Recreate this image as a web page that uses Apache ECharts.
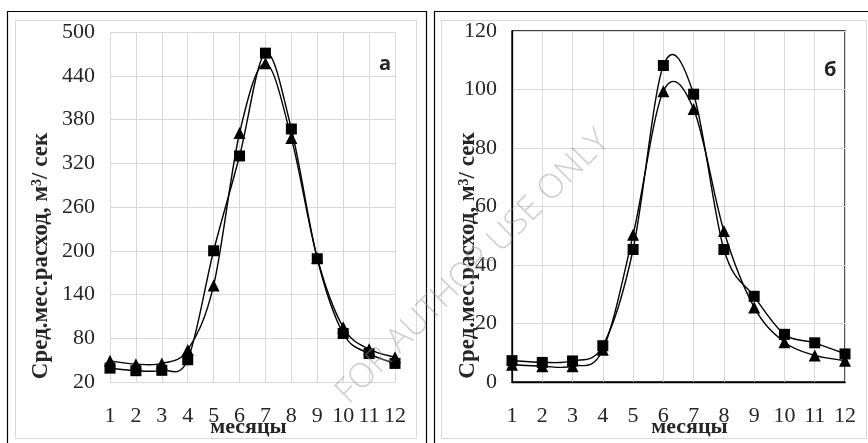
<!DOCTYPE html>
<html>
<head>
<meta charset="utf-8">
<script src="https://cdn.jsdelivr.net/npm/echarts@6/dist/echarts.min.js"></script>
<style>
  html, body { margin: 0; padding: 0; background: #fff; }
  #main { width: 868px; height: 443px; }
</style>
</head>
<body>
<div id="main"></div>
<script>
// месяцы
var months = ['1', '2', '3', '4', '5', '6', '7', '8', '9', '10', '11', '12'];

// график а
var aSquares = [39, 35.5, 36, 50.5, 200, 330, 471, 367, 189, 86.5, 59, 45.5];
var aTriangles = [49, 44.5, 45.5, 64, 152.5, 361.5, 457, 354.5, 190, 95, 65, 54];

// график б
var bSquares = [7.3, 6.7, 7.2, 12.4, 45.3, 108.2, 98.4, 45.3, 29.3, 16.3, 13.4, 9.6];
var bTriangles = [5.9, 5.4, 5.4, 11, 50.3, 99.4, 93.3, 51.6, 25.5, 13.6, 9.1, 7.3];

var serif = '"Liberation Serif", "DejaVu Serif", serif';
var textColor = '#262626';
var gridColor = '#d9d9d9';

var chart = echarts.init(document.getElementById('main'));

// подпись оси Y (с верхним индексом)
function yName (gap) {
    return {
        name: '{t|Сред.мес.расход, м}{s|3}{t|/ сек}',
        nameLocation: 'middle',
        nameGap: gap,
        nameMoveOverlap: false,
        nameTextStyle: {
            padding: [0, 98, 0, 0],
            rich: {
                t: { fontFamily: serif, fontSize: 23, fontWeight: 'bold', color: textColor },
                s: { fontFamily: serif, fontSize: 14, fontWeight: 'bold', color: textColor, verticalAlign: 'top' }
            }
        }
    }
}

function xAxis (gi, lineColor, pad) {
    return {
        type: 'category',
        gridIndex: gi,
        data: months,
        boundaryGap: false,
        name: 'месяцы',
        nameLocation: 'middle',
        nameGap: 34,
        nameMoveOverlap: false,
        nameTextStyle: { fontFamily: serif, fontSize: 22, fontWeight: 'bold', color: textColor, padding: pad },
        axisLine: { show: true, lineStyle: { color: lineColor, width: lineColor === '#000' ? 1.3 : 1 } },
        axisTick: { show: false },
        axisLabel: { margin: 23, fontFamily: serif, fontSize: 22, color: textColor, interval: 0 },
        splitLine: { show: true, lineStyle: { color: gridColor, width: 1 } }
    }
}

// сглаженная кривая как в Excel (Безье по соседним точкам)
function curveSeries (xi, values) {
    return {
        type: 'custom',
        xAxisIndex: xi,
        yAxisIndex: xi,
        silent: true,
        z: 2,
        data: values.map(function (v, i) { return [i, v] }),
        renderItem: function (params, api) {
            var i = params.dataIndexInside
            var n = params.dataInsideLength
            if (i >= n - 1) return
            function pt (j) {
                j = Math.max(0, Math.min(n - 1, j))
                return api.coord([api.value(0, j), api.value(1, j)])
            }
            var p0 = pt(i - 1), p1 = pt(i), p2 = pt(i + 1), p3 = pt(i + 2)
            var k = 1 / 6
            return {
                type: 'bezierCurve',
                shape: {
                    x1: p1[0], y1: p1[1],
                    x2: p2[0], y2: p2[1],
                    cpx1: p1[0] + (p2[0] - p0[0]) * k,
                    cpy1: p1[1] + (p2[1] - p0[1]) * k,
                    cpx2: p2[0] - (p3[0] - p1[0]) * k,
                    cpy2: p2[1] - (p3[1] - p1[1]) * k
                },
                style: { stroke: '#000', lineWidth: 1.4, fill: null }
            }
        }
    }
}

function markSeries (symbol, size, xi, values) {
    return {
        type: 'scatter',
        xAxisIndex: xi,
        yAxisIndex: xi,
        data: values,
        symbol: symbol,
        symbolSize: size,
        itemStyle: { color: '#000', opacity: 1 },
        z: 4
    }
}

var yA = Object.assign({
    type: 'value',
    gridIndex: 0,
    min: 20,
    max: 500,
    interval: 60,
    axisLine: { show: false },
    axisTick: { show: false },
    axisLabel: { margin: 15, fontFamily: serif, fontSize: 22, color: textColor },
    splitLine: { lineStyle: { color: gridColor, width: 1 } }
}, yName(57));

var yB = Object.assign({
    type: 'value',
    gridIndex: 1,
    min: 0,
    max: 120,
    interval: 20,
    axisLine: { show: true, lineStyle: { color: '#000', width: 1.3 } },
    axisTick: { show: false },
    axisLabel: { margin: 15, fontFamily: serif, fontSize: 22, color: textColor },
    splitLine: { lineStyle: { color: gridColor, width: 1 } }
}, yName(32));

var option = {
    animation: false,
    backgroundColor: '#fff',
    grid: [
        { left: 110, top: 32, width: 285, height: 351, show: false },
        { left: 512, top: 31, width: 333, height: 353, show: true, borderColor: '#000', borderWidth: 1.3, backgroundColor: 'transparent' }
    ],
    xAxis: [xAxis(0, gridColor, [0, 8, 0, 0]), xAxis(1, '#000', [0, 0, 0, 22])],
    yAxis: [yA, yB],
    series: [
        curveSeries(0, aTriangles),
        curveSeries(0, aSquares),
        curveSeries(1, bTriangles),
        curveSeries(1, bSquares),
        markSeries('triangle', 12, 0, aTriangles),
        markSeries('rect', 11, 0, aSquares),
        markSeries('triangle', 12, 1, bTriangles),
        markSeries('rect', 11, 1, bSquares)
    ],
    graphic: [
        // рамки панелей
        { type: 'rect', shape: { x: 7.5, y: 11.5, width: 419, height: 445 }, style: { fill: 'none', stroke: '#000', lineWidth: 1.2 }, z: -10, silent: true },
        { type: 'rect', shape: { x: 15.5, y: 20.5, width: 401, height: 418 }, style: { fill: 'none', stroke: gridColor, lineWidth: 1 }, z: -10, silent: true },
        { type: 'rect', shape: { x: 434.5, y: 11.5, width: 445, height: 445 }, style: { fill: 'none', stroke: '#000', lineWidth: 1.2 }, z: -10, silent: true },
        { type: 'rect', shape: { x: 441.5, y: 20.5, width: 425, height: 418 }, style: { fill: 'none', stroke: gridColor, lineWidth: 1 }, z: -10, silent: true },
        // метки графиков
        { type: 'text', left: 379, top: 54, style: { text: 'а', font: 'bold 20px "Open Sans", sans-serif', fill: textColor }, silent: true },
        { type: 'text', left: 824, top: 60, style: { text: 'б', font: 'bold 20px "Open Sans", sans-serif', fill: textColor }, silent: true },
        // водяной знак
        {
            type: 'text', x: 473, y: 267, rotation: Math.PI / 4, silent: true, z: 100,
            style: { text: 'FOR AUTHOR USE ONLY', font: '300 34px "Open Sans", sans-serif', fill: 'rgba(150,150,150,0.45)', align: 'center', verticalAlign: 'middle' }
        }
    ]
};

chart.setOption(option);
</script>
</body>
</html>
